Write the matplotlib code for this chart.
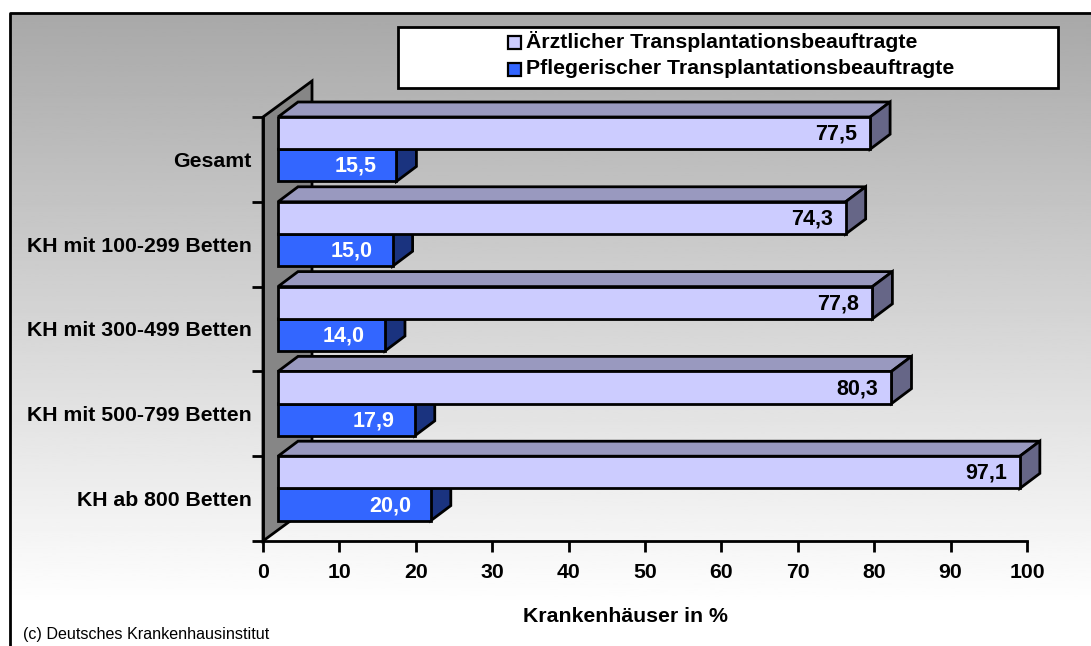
#!/usr/bin/env python
import numpy as np
import matplotlib
matplotlib.use('Agg')
import matplotlib.pyplot as plt
from matplotlib.patches import Polygon, Rectangle

categories = ['Gesamt', 'KH mit 100-299 Betten', 'KH mit 300-499 Betten',
              'KH mit 500-799 Betten', 'KH ab 800 Betten']
aerztlich = [77.5, 74.3, 77.8, 80.3, 97.1]
pflege = [15.5, 15.0, 14.0, 17.9, 20.0]
series_names = ['Ärztlicher Transplantationsbeauftragte',
                'Pflegerischer Transplantationsbeauftragte']
xticks = list(range(0, 101, 10))

W, H = 1091, 646
FONT = 'Liberation Sans'
LW = 2.0

# pixel box of the plot
X0, X1 = 263, 1027
Y0, Y1 = 117, 541

# the 3d look, in pixels
FRONT_DX = 15
BAR_DX, BAR_DY = 20, 15
WALL_DX, WALL_DY = 49, 36

fig = plt.figure(figsize=(W / 100, H / 100), dpi=100, facecolor='white')

# full figure axes in pixel coords for the background
bg = fig.add_axes([0, 0, 1, 1])
grad = np.linspace(0, 1, 256).reshape(-1, 1)
grad = 0.66 + 0.34 * np.clip(grad / 0.94, 0, 1)
bg.imshow(grad, cmap='gray', vmin=0, vmax=1, extent=(10, W, H, 13),
          aspect='auto', zorder=0)
bg.set_xlim(0, W)
bg.set_ylim(H, 0)
bg.axis('off')
# frame only runs along the top and left
bg.plot([W, 10, 10], [13, 13, H], color='black', lw=LW, zorder=1)

ax = fig.add_axes([X0 / W, 1 - Y1 / H, (X1 - X0) / W, (Y1 - Y0) / H])
ax.patch.set_alpha(0)
ax.set_xlim(0, 100)
ax.set_ylim(5, 0)
px_x = 100 / (X1 - X0)
px_y = 5 / (Y1 - Y0)

# back wall
wall = Polygon([(0, 0), (WALL_DX * px_x, -WALL_DY * px_y),
                (WALL_DX * px_x, 5 - WALL_DY * px_y), (0, 5)], closed=True,
               fc='#868686', ec='black', lw=LW, clip_on=False, zorder=1)
ax.add_patch(wall)

left = FRONT_DX * px_x
bar_h = 0.38
dx = BAR_DX * px_x
dy = BAR_DY * px_y


def bar3d(y, val, front, top, side, txt_color, gap, zorder):
    r = left + val
    ax.add_patch(Polygon([(left, y), (left + dx, y - dy), (r + dx, y - dy), (r, y)],
                         closed=True, fc=top, ec='black', lw=LW, clip_on=False, zorder=zorder))
    ax.add_patch(Polygon([(r, y), (r + dx, y - dy), (r + dx, y + bar_h - dy), (r, y + bar_h)],
                         closed=True, fc=side, ec='black', lw=LW, clip_on=False, zorder=zorder))
    ax.barh(y, val, height=bar_h, left=left, align='edge', color=front,
            edgecolor='black', linewidth=LW, zorder=zorder + 0.1)
    ax.text(r - gap * px_x, y + bar_h / 2 + 1 * px_y, f'{val:.1f}'.replace('.', ','),
            ha='right', va='center', color=txt_color, fontsize=15.5, fontweight='bold',
            family=FONT, zorder=zorder + 0.2)


for i in range(len(categories)):
    # lower bar first so the one above sits on it properly
    bar3d(i + bar_h, pflege[i], '#3366ff', '#9999c0', '#1a337f', 'white', 20, 3 + i)
    bar3d(i, aerztlich[i], '#ccccff', '#9999bf', '#666687', 'black', 13, 3.5 + i)

for s in ['top', 'right']:
    ax.spines[s].set_visible(False)
for s in ['left', 'bottom']:
    ax.spines[s].set_linewidth(LW)
    ax.spines[s].set_zorder(2)
ax.set_xticks(xticks)
ax.set_xticklabels([str(t) for t in xticks], fontsize=15.3, fontweight='bold', family=FONT)
ax.set_yticks(range(6))
ax.set_yticklabels([])
ax.set_yticks([i + 0.5 for i in range(5)], minor=True)
ax.set_yticklabels(categories, minor=True, fontsize=15.3, fontweight='bold', family=FONT)
ax.tick_params(axis='y', which='minor', length=0, pad=8)
ax.tick_params(axis='both', which='major', length=8, width=LW, pad=8)
ax.tick_params(axis='x', direction='out')

# legend box, hand placed as in the picture
bg.add_patch(Rectangle((398, 27), 660, 61, fc='white', ec='black', lw=LW, zorder=20))
for y, c, name in zip([42, 69], ['#ccccff', '#3366ff'], series_names):
    bg.add_patch(Rectangle((508, y - 6), 13, 13, fc=c, ec='black', lw=1.6, zorder=21))
    bg.text(526, y, name, ha='left', va='center', fontsize=15.3, fontweight='bold',
            family=FONT, zorder=21)

bg.text(625, 616, 'Krankenhäuser in %', ha='center', va='center', fontsize=15.3,
        fontweight='bold', family=FONT, zorder=5)
bg.text(23, 635, '(c) Deutsches Krankenhausinstitut', ha='left', va='center',
        fontsize=11.6, family=FONT, zorder=5)

fig.savefig('out.png', dpi=100)
